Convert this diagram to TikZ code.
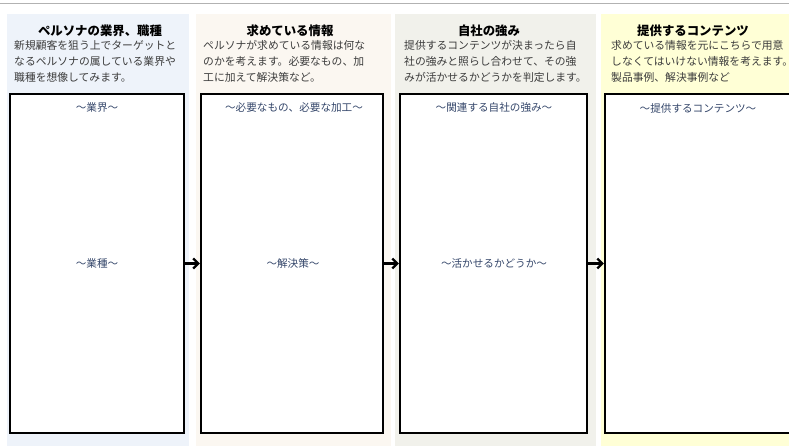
\documentclass[tikz,border=0pt]{standalone}
\usepackage{fontspec}
\setmainfont{Noto Sans CJK JP}
\usetikzlibrary{arrows.meta}
\definecolor{bgblue}{HTML}{EEF3FA}
\definecolor{bgbeige}{HTML}{FBF7F1}
\definecolor{bggray}{HTML}{F1F1EB}
\definecolor{bgyellow}{HTML}{FFFFD6}
\definecolor{labelblue}{HTML}{34466A}
\definecolor{bodygray}{HTML}{3C3C3C}

\begin{document}
\begin{tikzpicture}[x=1pt,y=-1pt,
	box/.style={draw=black,fill=white,line width=2.4pt,minimum height=339pt,inner sep=0pt},
	title/.style={font=\fontsize{12.4}{14}\selectfont\bfseries,text=black,inner sep=0pt},
	body/.style={font=\fontsize{10.8}{16.2}\selectfont,text=bodygray,align=left,anchor=north west,inner sep=0pt},
	label/.style={font=\fontsize{10.6}{12}\selectfont,text=labelblue,inner sep=0pt},
	flow/.style={-{Straight Barb[length=5pt,width=10pt]},line width=2.2pt}]
		\useasboundingbox (0,0) rectangle (789,446);
		\clip (0,0) rectangle (789,446);
		\fill[white] (0,0) rectangle (789,446);
		\draw[gray!60,line width=1pt] (0,4) -- (789,4);
		% column backgrounds
		\fill[bgblue] (7,14) rectangle (189,446);
		\fill[bgbeige] (196,14) rectangle (391,446);
		\fill[bggray] (395,14) rectangle (596,446);
		\fill[bgyellow] (601,14) rectangle (789,446);
		% boxes
		\node[box,minimum width=174pt] (gyokai) at (97,263.5){};
		\node[box,minimum width=182pt] (joho) at (292,263.5){};
		\node[box,minimum width=187pt] (tsuyomi) at (493.5,263.5){};
		\node[box,minimum width=186pt] (contents) at (698,263.5){};
		% titles and texts
		\node[title] (t1) at (100,31){ペルソナの業界、職種};
		\node[body] (b1) at (14,40){新規顧客を狙う上でターゲットと\\なるペルソナの属している業界や\\職種を想像してみます。};
		\node[title] (t2) at (290,31){求めている情報};
		\node[body] (b2) at (203,40){ペルソナが求めている情報は何な\\のかを考えます。必要なもの、加\\工に加えて解決策など。};
		\node[title] (t3) at (489,31){自社の強み};
		\node[body] (b3) at (404,40){提供するコンテンツが決まったら自\\社の強みと照らし合わせて、その強\\みが活かせるかどうかを判定します。};
		\node[title] (t4) at (693,31){提供するコンテンツ};
		\node[body] (b4) at (611,40){求めている情報を元にこちらで用意\\しなくてはいけない情報を考えます。\\製品事例、解決事例など};
		% labels in boxes
		\node[label] (l1) at (97,108){～業界～};
		\node[label] (m1) at (97,263){～業種～};
		\node[label] (l2) at (294,108){～必要なもの、必要な加工～};
		\node[label] (m2) at (293,263){～解決策～};
		\node[label] (l3) at (494,108){～関連する自社の強み～};
		\node[label] (m3) at (494,263){～活かせるかどうか～};
		\node[label] (l4) at (698,108){～提供するコンテンツ～};
		% arrows
		\draw[flow] (gyokai.east) -- (joho.west);
		\draw[flow] (joho.east) -- (tsuyomi.west);
		\draw[flow] (tsuyomi.east) -- (contents.west);
\end{tikzpicture}
\end{document}
